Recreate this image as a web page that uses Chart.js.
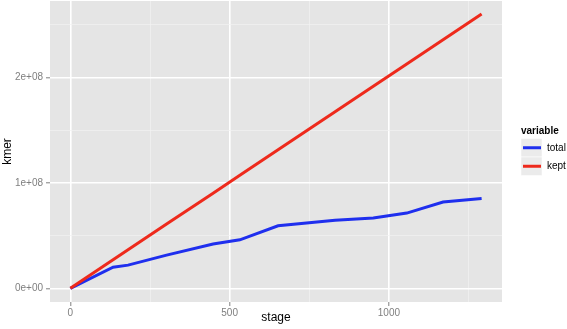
<!DOCTYPE html>
<html>
<head>
<meta charset="utf-8">
<script src="https://cdn.jsdelivr.net/npm/chart.js@4.4.1/dist/chart.umd.min.js"></script>
<style>body{margin:0;background:#fff}</style>
</head>
<body>
<canvas id="kmer_chart" width="567" height="329"></canvas>
<script>
// values
var stages = [0, 134, 181, 302, 448, 532, 652, 831, 951, 1056, 1170, 1291];
var totalKmers = [0, 2.0e7, 2.2e7, 3.15e7, 4.2e7, 4.6e7, 5.93e7, 6.45e7, 6.67e7, 7.14e7, 8.19e7, 8.53e7];
var keptKmers = [0, 2.7e7, 3.65e7, 6.1e7, 9.03e7, 1.072e8, 1.314e8, 1.675e8, 1.917e8, 2.129e8, 2.359e8, 2.603e8];
var seriesNames = ['total', 'kept'];
var xTicks = [0, 250, 500, 750, 1000, 1250];
var xTickLabels = ['0', '', '500', '', '1000', ''];
var yTicks = [0, 5e7, 1e8, 1.5e8, 2e8, 2.5e8];
var yTickLabels = ['0e+00', '', '1e+08', '', '2e+08', ''];

var FONT = "'Liberation Sans', Arial, sans-serif";

function toPoints(xs, ys) {
    return xs.map(function (x, i) { return {x: x, y: ys[i]}; });
}

// grey ggplot panel
var panelBackground = {
    id: 'panelBackground',
    beforeDraw: function (chart) {
        var a = chart.chartArea, ctx = chart.ctx;
        ctx.save();
        ctx.fillStyle = '#E5E5E5';
        ctx.fillRect(a.left, a.top, a.right - a.left, a.bottom - a.top);
        ctx.restore();
    }
};

// ggplot style legend on the right
var sideLegend = {
    id: 'sideLegend',
    afterDraw: function (chart) {
        var ctx = chart.ctx;
        var x = 521, y = 131;
        ctx.save();
        ctx.font = 'bold 10px ' + FONT;
        ctx.fillStyle = '#000';
        ctx.textBaseline = 'middle';
        ctx.textAlign = 'left';
        ctx.fillText('variable', x, y);
        chart.data.datasets.forEach(function (ds, i) {
            var top = 138.5 + i * 18.5;
            ctx.fillStyle = '#EBEBEB';
            ctx.fillRect(x, top, 21, 18.5);
            ctx.strokeStyle = '#fff';
            ctx.lineWidth = 0.5;
            ctx.strokeRect(x, top, 21, 18.5);
            ctx.strokeStyle = ds.borderColor;
            ctx.lineWidth = 3;
            ctx.beginPath();
            ctx.moveTo(x + 2, top + 9.25);
            ctx.lineTo(x + 20, top + 9.25);
            ctx.stroke();
            ctx.fillStyle = '#000';
            ctx.font = '10px ' + FONT;
            ctx.fillText(ds.label, x + 26, top + 9.5);
        });
        ctx.restore();
    }
};

function gridColor(ctx) { return ctx.index % 2 === 0 ? '#FFFFFF' : '#F2F2F2'; }
function gridWidth(ctx) { return ctx.index % 2 === 0 ? 1.6 : 0.7; }
function tickColor(ctx) { return ctx.index % 2 === 0 ? '#7F7F7F' : 'rgba(0,0,0,0)'; }

new Chart(document.getElementById('kmer_chart'), {
    type: 'line',
    data: {
        datasets: [
            {
                label: seriesNames[0],
                data: toPoints(stages, totalKmers),
                borderColor: '#1F2FEE',
                borderWidth: 3,
                pointRadius: 0,
                fill: false,
                order: 1
            }, {
                label: seriesNames[1],
                data: toPoints(stages, keptKmers),
                borderColor: '#EE2A1C',
                borderWidth: 3,
                pointRadius: 0,
                fill: false,
                order: 0
            }
        ]
    },
    options: {
        responsive: false,
        animation: false,
        devicePixelRatio: 1,
        layout: {
            padding: {top: 1, right: 65, left: 0, bottom: 0}
        },
        plugins: {
            legend: {display: false},
            tooltip: {enabled: false}
        },
        scales: {
            x: {
                type: 'linear',
                min: -64,
                max: 1355,
                afterBuildTicks: function (scale) {
                    scale.ticks = xTicks.map(function (v) { return {value: v}; });
                },
                afterFit: function (scale) {
                    scale.height = 27;
                    scale.paddingLeft = 0;
                    scale.paddingRight = 0;
                },
                border: {display: false},
                grid: {
                    color: gridColor,
                    lineWidth: gridWidth,
                    tickColor: tickColor,
                    tickLength: 4,
                    tickWidth: 1
                },
                ticks: {
                    autoSkip: false,
                    maxRotation: 0,
                    padding: 1,
                    color: '#7F7F7F',
                    font: {family: FONT, size: 10},
                    callback: function (v) {
                        var i = xTicks.indexOf(v);
                        return i < 0 ? '' : xTickLabels[i];
                    }
                },
                title: {
                    display: true,
                    text: 'stage',
                    color: '#000',
                    font: {family: FONT, size: 12},
                    padding: {top: 0, bottom: 4}
                }
            },
            y: {
                type: 'linear',
                min: -1.3e7,
                max: 2.727e8,
                afterBuildTicks: function (scale) {
                    scale.ticks = yTicks.map(function (v) { return {value: v}; });
                },
                afterFit: function (scale) {
                    scale.width = 50;
                    scale.paddingTop = 0;
                    scale.paddingBottom = 0;
                },
                border: {display: false},
                grid: {
                    color: gridColor,
                    lineWidth: gridWidth,
                    tickColor: tickColor,
                    tickLength: 4,
                    tickWidth: 1
                },
                ticks: {
                    autoSkip: false,
                    padding: 3,
                    color: '#7F7F7F',
                    font: {family: FONT, size: 10},
                    callback: function (v) {
                        var i = yTicks.indexOf(v);
                        return i < 0 ? '' : yTickLabels[i];
                    }
                },
                title: {
                    display: true,
                    text: 'kmer',
                    color: '#000',
                    font: {family: FONT, size: 12},
                    padding: {top: 0, bottom: 0}
                }
            }
        }
    },
    plugins: [panelBackground, sideLegend]
});
</script>
</body>
</html>
